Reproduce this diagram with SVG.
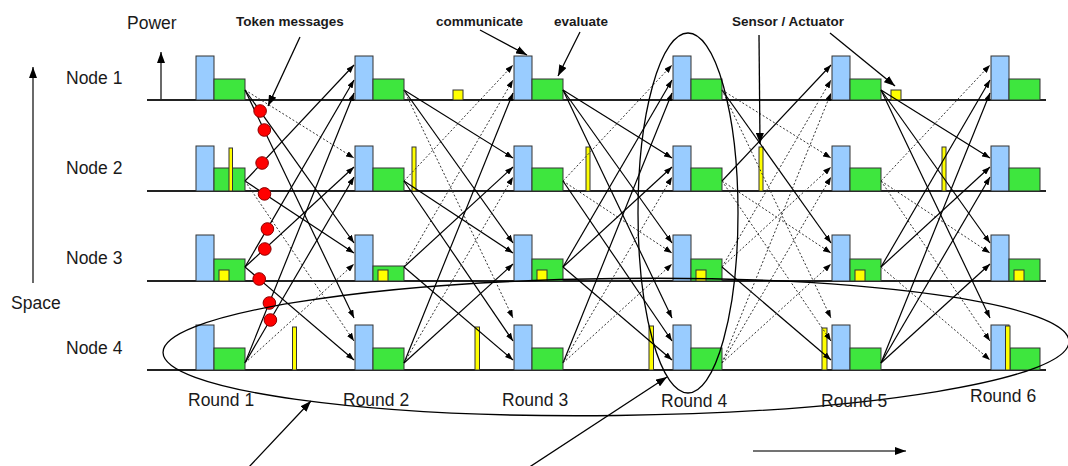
<svg xmlns="http://www.w3.org/2000/svg" width="1068" height="466" viewBox="0 0 1068 466">
  <style>
    .lbl{font-family:"Liberation Sans",Arial,sans-serif;font-size:17.5px;fill:#1a1a1a}
    .cap{font-family:"Liberation Sans",Arial,sans-serif;font-size:13.5px;font-weight:bold;fill:#1a1a1a}
    .base{stroke:#222;stroke-width:1.8}
    .cpu{fill:#99ccff;stroke:#333;stroke-width:1}
    .act{fill:#3ee63e;stroke:#333;stroke-width:1}
    .io{fill:#ffff00;stroke:#333;stroke-width:1}
    .s{stroke:#000;stroke-width:1.2;fill:none;marker-end:url(#ah)}
    .d{stroke:#333;stroke-width:1;stroke-dasharray:2 2;fill:none;marker-end:url(#ah)}
    .tok{fill:#ff0000;stroke:#8b0000;stroke-width:1}
    .ptr{stroke:#000;stroke-width:1.3;fill:none;marker-end:url(#ah2)}
    .axis{stroke:#444;stroke-width:1.6;fill:none;marker-end:url(#ah2)}
    .ring{fill:none;stroke:#000;stroke-width:1.3}
  </style>
  <defs>
    <marker id="ah" markerUnits="userSpaceOnUse" markerWidth="8" markerHeight="6" refX="8" refY="3" orient="auto">
      <path d="M0,0 L8,3 L0,6 z" fill="#000"/>
    </marker>
    <marker id="ah2" markerUnits="userSpaceOnUse" markerWidth="11" markerHeight="8" refX="11" refY="4" orient="auto">
      <path d="M0,0 L11,4 L0,8 z" fill="#000"/>
    </marker>
  </defs>
  <rect width="1068" height="466" fill="#fff"/>

  <!-- axes -->
  <g id="axes">
    <text class="lbl" x="127" y="29">Power</text>
    <line class="axis" x1="161" y1="100" x2="161" y2="52"/>
    <text class="lbl" x="11" y="309">Space</text>
    <line class="axis" x1="33" y1="283" x2="33" y2="67"/>
    <line class="axis" x1="753" y1="451" x2="906" y2="451"/>
  </g>

  <!-- node 1 -->
  <g id="node1">
    <text class="lbl" x="66" y="84">Node 1</text>
    <line class="base" x1="147" y1="100" x2="1046" y2="100"/>
    <g id="n1-rounds">
      <rect class="cpu" x="196" y="56" width="18" height="44"/><rect class="act" x="214" y="79" width="31" height="21"/>
      <rect class="cpu" x="355" y="56" width="18" height="44"/><rect class="act" x="373" y="79" width="31" height="21"/>
      <rect class="cpu" x="514" y="56" width="18" height="44"/><rect class="act" x="532" y="79" width="31" height="21"/>
      <rect class="cpu" x="673" y="56" width="18" height="44"/><rect class="act" x="691" y="79" width="31" height="21"/>
      <rect class="cpu" x="832" y="56" width="18" height="44"/><rect class="act" x="850" y="79" width="31" height="21"/>
      <rect class="cpu" x="991" y="56" width="18" height="44"/><rect class="act" x="1009" y="79" width="31" height="21"/>
    </g>
    <rect class="io" x="453" y="90" width="10" height="10"/>
    <rect class="io" x="891" y="90" width="10" height="10"/>
  </g>

  <!-- node 2 -->
  <g id="node2">
    <text class="lbl" x="66" y="174">Node 2</text>
    <line class="base" x1="147" y1="191" x2="1046" y2="191"/>
    <g id="n2-rounds">
      <rect class="cpu" x="196" y="146" width="18" height="45"/><rect class="act" x="214" y="168" width="31" height="23"/>
      <rect class="cpu" x="355" y="146" width="18" height="45"/><rect class="act" x="373" y="168" width="31" height="23"/>
      <rect class="cpu" x="514" y="146" width="18" height="45"/><rect class="act" x="532" y="168" width="31" height="23"/>
      <rect class="cpu" x="673" y="146" width="18" height="45"/><rect class="act" x="691" y="168" width="31" height="23"/>
      <rect class="cpu" x="832" y="146" width="18" height="45"/><rect class="act" x="850" y="168" width="31" height="23"/>
      <rect class="cpu" x="991" y="146" width="18" height="45"/><rect class="act" x="1009" y="168" width="31" height="23"/>
    </g>
    <rect class="io" x="229" y="148" width="3.5" height="43"/>
    <rect class="io" x="412" y="147" width="4" height="44"/>
    <rect class="io" x="586" y="147" width="4" height="44"/>
    <rect class="io" x="759" y="147" width="4" height="44"/>
    <rect class="io" x="942" y="147" width="4" height="44"/>
  </g>

  <!-- node 3 -->
  <g id="node3">
    <text class="lbl" x="66" y="264">Node 3</text>
    <line class="base" x1="147" y1="281" x2="1046" y2="281"/>
    <g id="n3-rounds">
      <rect class="cpu" x="196" y="235" width="18" height="46"/><rect class="act" x="214" y="259" width="31" height="22"/>
      <rect class="cpu" x="355" y="235" width="18" height="46"/><rect class="act" x="373" y="266" width="31" height="15"/>
      <rect class="cpu" x="514" y="235" width="18" height="46"/><rect class="act" x="532" y="259" width="31" height="22"/>
      <rect class="cpu" x="673" y="235" width="18" height="46"/><rect class="act" x="691" y="259" width="31" height="22"/>
      <rect class="cpu" x="832" y="235" width="18" height="46"/><rect class="act" x="850" y="259" width="31" height="22"/>
      <rect class="cpu" x="991" y="235" width="18" height="46"/><rect class="act" x="1009" y="259" width="31" height="22"/>
    </g>
    <rect class="io" x="219" y="270" width="10" height="11"/>
    <rect class="io" x="378" y="270" width="10" height="11"/>
    <rect class="io" x="537" y="270" width="10" height="11"/>
    <rect class="io" x="696" y="270" width="10" height="11"/>
    <rect class="io" x="855" y="270" width="10" height="11"/>
    <rect class="io" x="1014" y="270" width="10" height="11"/>
  </g>

  <!-- node 4 -->
  <g id="node4">
    <text class="lbl" x="66" y="354">Node 4</text>
    <line class="base" x1="147" y1="370" x2="1046" y2="370"/>
    <g id="n4-rounds">
      <rect class="cpu" x="196" y="325" width="18" height="45"/><rect class="act" x="214" y="348" width="31" height="22"/>
      <rect class="cpu" x="355" y="325" width="18" height="45"/><rect class="act" x="373" y="348" width="31" height="22"/>
      <rect class="cpu" x="514" y="325" width="18" height="45"/><rect class="act" x="532" y="348" width="31" height="22"/>
      <rect class="cpu" x="673" y="325" width="18" height="45"/><rect class="act" x="691" y="348" width="31" height="22"/>
      <rect class="cpu" x="832" y="325" width="18" height="45"/><rect class="act" x="850" y="348" width="31" height="22"/>
      <rect class="cpu" x="991" y="325" width="18" height="45"/><rect class="act" x="1010" y="348" width="30" height="22"/>
    </g>
    <rect class="io" x="292.5" y="327" width="4" height="43"/>
    <rect class="io" x="475" y="327" width="4.5" height="43"/>
    <rect class="io" x="649" y="326" width="4.5" height="44"/>
    <rect class="io" x="822" y="328" width="5" height="42"/>
    <rect class="io" x="1005.5" y="326" width="4.5" height="44"/>
  </g>

  <!-- messages between rounds: solid = delivered, dotted = other traffic -->
  <g id="connectors">
    <g id="t1">
      <line class="d" x1="245" y1="90" x2="354" y2="158"/>
      <line class="s" x1="245" y1="90" x2="354" y2="243"/>
      <line class="s" x1="245" y1="90" x2="354" y2="318"/>
      <line class="s" x1="245" y1="181" x2="354" y2="65"/>
      <line class="s" x1="245" y1="181" x2="354" y2="253"/>
      <line class="d" x1="245" y1="181" x2="354" y2="341"/>
      <line class="s" x1="245" y1="267" x2="354" y2="80"/>
      <line class="s" x1="245" y1="267" x2="354" y2="167"/>
      <line class="s" x1="245" y1="267" x2="354" y2="360"/>
      <line class="s" x1="245" y1="363" x2="354" y2="93"/>
      <line class="s" x1="245" y1="363" x2="354" y2="177"/>
      <line class="d" x1="245" y1="363" x2="354" y2="264"/>
    </g>
    <g id="t2" transform="translate(159,0)">
      <line class="s" x1="245" y1="90" x2="354" y2="158"/>
      <line class="s" x1="245" y1="90" x2="354" y2="243"/>
      <line class="d" x1="245" y1="90" x2="354" y2="318"/>
      <line class="d" x1="245" y1="181" x2="354" y2="65"/>
      <line class="s" x1="245" y1="181" x2="354" y2="253"/>
      <line class="s" x1="245" y1="181" x2="354" y2="341"/>
      <line class="d" x1="245" y1="267" x2="354" y2="80"/>
      <line class="s" x1="245" y1="267" x2="354" y2="167"/>
      <line class="s" x1="245" y1="267" x2="354" y2="360"/>
      <line class="s" x1="245" y1="363" x2="354" y2="93"/>
      <line class="d" x1="245" y1="363" x2="354" y2="177"/>
      <line class="s" x1="245" y1="363" x2="354" y2="264"/>
    </g>
    <g id="t3" transform="translate(318,0)">
      <line class="s" x1="245" y1="90" x2="354" y2="158"/>
      <line class="s" x1="245" y1="90" x2="354" y2="243"/>
      <line class="s" x1="245" y1="90" x2="354" y2="318"/>
      <line class="d" x1="245" y1="181" x2="354" y2="65"/>
      <line class="d" x1="245" y1="181" x2="354" y2="253"/>
      <line class="s" x1="245" y1="181" x2="354" y2="341"/>
      <line class="s" x1="245" y1="267" x2="354" y2="80"/>
      <line class="s" x1="245" y1="267" x2="354" y2="167"/>
      <line class="s" x1="245" y1="267" x2="354" y2="360"/>
      <line class="s" x1="245" y1="363" x2="354" y2="93"/>
      <line class="d" x1="245" y1="363" x2="354" y2="177"/>
      <line class="d" x1="245" y1="363" x2="354" y2="264"/>
    </g>
    <g id="t4" transform="translate(477,0)">
      <line class="d" x1="245" y1="90" x2="354" y2="158"/>
      <line class="s" x1="245" y1="90" x2="354" y2="243"/>
      <line class="d" x1="245" y1="90" x2="354" y2="318"/>
      <line class="s" x1="245" y1="181" x2="354" y2="65"/>
      <line class="d" x1="245" y1="181" x2="354" y2="253"/>
      <line class="d" x1="245" y1="181" x2="354" y2="341"/>
      <line class="d" x1="245" y1="267" x2="354" y2="80"/>
      <line class="d" x1="245" y1="267" x2="354" y2="167"/>
      <line class="s" x1="245" y1="267" x2="354" y2="360"/>
      <line class="d" x1="245" y1="363" x2="354" y2="93"/>
      <line class="d" x1="245" y1="363" x2="354" y2="177"/>
      <line class="d" x1="245" y1="363" x2="354" y2="264"/>
    </g>
    <g id="t5" transform="translate(636,0)">
      <line class="s" x1="245" y1="90" x2="354" y2="158"/>
      <line class="s" x1="245" y1="90" x2="354" y2="243"/>
      <line class="s" x1="245" y1="90" x2="354" y2="318"/>
      <line class="d" x1="245" y1="181" x2="354" y2="65"/>
      <line class="d" x1="245" y1="181" x2="354" y2="253"/>
      <line class="d" x1="245" y1="181" x2="354" y2="341"/>
      <line class="s" x1="245" y1="267" x2="354" y2="80"/>
      <line class="s" x1="245" y1="267" x2="354" y2="167"/>
      <line class="d" x1="245" y1="267" x2="354" y2="360"/>
      <line class="s" x1="245" y1="363" x2="354" y2="93"/>
      <line class="s" x1="245" y1="363" x2="354" y2="177"/>
      <line class="s" x1="245" y1="363" x2="354" y2="264"/>
    </g>
  </g>

  <!-- token messages on the first round -->
  <g id="tokens">
    <circle class="tok" cx="260.1" cy="111" r="6.3"/>
    <circle class="tok" cx="264.3" cy="130" r="6.3"/>
    <circle class="tok" cx="262.1" cy="163" r="6.3"/>
    <circle class="tok" cx="264.5" cy="193.9" r="6.3"/>
    <circle class="tok" cx="267.4" cy="229" r="6.3"/>
    <circle class="tok" cx="264.8" cy="249" r="6.3"/>
    <circle class="tok" cx="259.2" cy="279" r="6.3"/>
    <circle class="tok" cx="269.4" cy="303" r="6.3"/>
    <circle class="tok" cx="270.4" cy="320" r="6.3"/>
  </g>

  <!-- groupings: all rounds of node 4, all nodes of round 4 -->
  <g id="groupings">
    <ellipse class="ring" cx="616" cy="347" rx="453" ry="68.5" transform="rotate(-0.7 616 347)"/>
    <ellipse class="ring" cx="688" cy="213" rx="50" ry="180"/>
  </g>

  <!-- round labels -->
  <g id="rounds">
    <text class="lbl" x="188" y="406">Round 1</text>
    <text class="lbl" x="343" y="406">Round 2</text>
    <text class="lbl" x="502" y="406">Round 3</text>
    <text class="lbl" x="661" y="407">Round 4</text>
    <text class="lbl" x="821" y="407">Round 5</text>
    <text class="lbl" x="970" y="402">Round 6</text>
  </g>

  <!-- callouts -->
  <g id="callouts">
    <text class="cap" x="236" y="26">Token messages</text>
    <line class="ptr" x1="300" y1="37" x2="268" y2="106"/>
    <text class="cap" x="436" y="26">communicate</text>
    <line class="ptr" x1="480" y1="30" x2="527" y2="55"/>
    <text class="cap" x="554" y="26">evaluate</text>
    <line class="ptr" x1="580" y1="32" x2="558" y2="76"/>
    <text class="cap" x="732" y="26">Sensor / Actuator</text>
    <line class="ptr" x1="759" y1="35" x2="760" y2="144"/>
    <line class="ptr" x1="830" y1="33" x2="895" y2="86"/>
    <line class="ptr" x1="248" y1="468" x2="311" y2="401"/>
    <line class="ptr" x1="528" y1="468" x2="667" y2="377"/>
  </g>
</svg>
